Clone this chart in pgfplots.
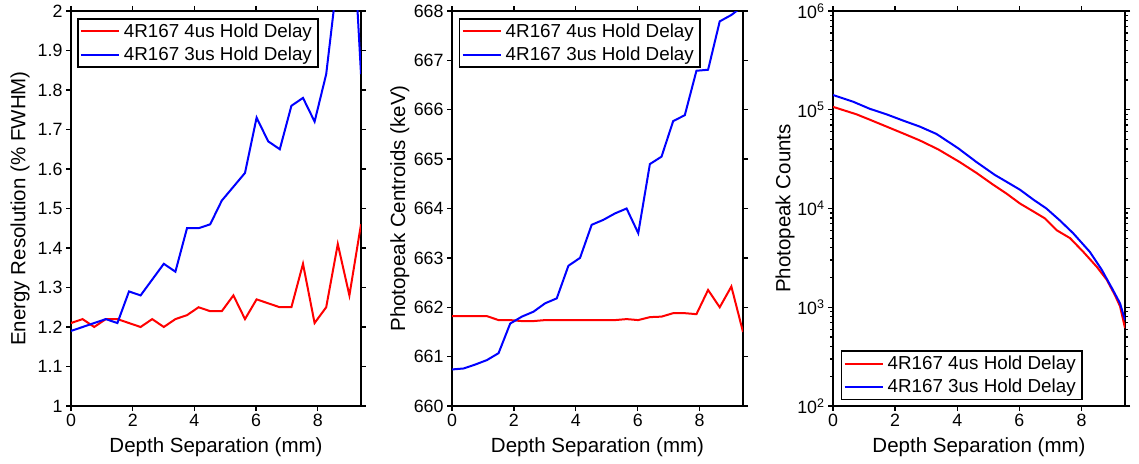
\documentclass[border=0pt]{standalone}
\usepackage{pgfplots}
\pgfplotsset{compat=1.18}
\usepackage{pgfplotstable}
\usepackage{fontspec}
\setmainfont{Liberation Sans}

\pgfplotstableread{
x      eA     eB     cA      cB
0      1.21   1.19   661.82  660.74
0.376  1.22   1.20   661.82  660.76
0.752  1.20   1.21   661.82  660.84
1.128  1.22   1.22   661.82  660.93
1.504  1.22   1.21   661.74  661.07
1.88   1.21   1.29   661.74  661.67
2.256  1.20   1.28   661.72  661.81
2.632  1.22   1.32   661.72  661.91
3.008  1.20   1.36   661.74  662.08
3.384  1.22   1.34   661.74  662.18
3.76   1.23   1.45   661.74  662.84
4.136  1.25   1.45   661.74  663.00
4.512  1.24   1.46   661.74  663.67
4.888  1.24   1.52   661.74  663.77
5.264  1.28   1.555  661.74  663.90
5.64   1.22   1.59   661.76  664.00
6.016  1.27   1.73   661.74  663.50
6.392  1.26   1.67   661.80  664.90
6.768  1.25   1.65   661.81  665.05
7.144  1.25   1.76   661.88  665.77
7.52   1.36   1.78   661.88  665.89
7.896  1.21   1.72   661.86  666.79
8.272  1.25   1.84   662.35  666.81
8.648  1.41   2.09   662.00  667.79
9.024  1.28   2.38   662.42  667.92
9.4    1.46   1.84   661.50  668.10
}\tabdata

\pgfplotstableread{
x     y
0     107000
0.752 90000
1.18  79430
1.72  67610
2.26  57544
2.79  48978
3.38  39811
4.08  29512
4.62  22909
5.16  17378
5.59  14125
6.02  11220
6.45  9333
6.82  7943
7.20  6026
7.63  5012
8.06  3631
8.49  2570
8.81  1905
9.08  1318
9.24  1023
9.40  617
}\countsA

\pgfplotstableread{
x     y
0     140930
0.645 120780
1.18  102330
1.72  89950
2.26  77625
2.79  67608
3.33  56885
4.03  40738
4.62  29512
5.21  21878
5.59  18621
6.02  15488
6.45  12303
6.87  10000
7.30  7586
7.73  5623
8.27  3631
8.65  2399
9.02  1479
9.24  1096
9.40  741
}\countsB

\pgfplotsset{
  mystyle/.style={
    height=395pt, scale only axis,
    xmin=0, xmax=9.4,
    xtick={0,2,4,6,8},
    tick align=outside,
    major tick length=5pt,
    minor tick length=3pt,
    axis line style={line width=1.5pt},
    every tick/.style={black, line width=1.3pt},
    tick label style={font=\fontsize{17.8}{20}\selectfont},
    label style={font=\fontsize{20.5}{24}\selectfont},
    /pgf/number format/assume math mode=true,
    xlabel={Depth Separation (mm)},
    xlabel style={at={(axis description cs:0.5,-0.104)}, anchor=center},
    legend cell align=left,
    legend style={font=\fontsize{18.8}{21}\selectfont, draw=black, line width=1.5pt,
      inner xsep=2pt, inner ysep=1pt, row sep=0pt,
      nodes={inner xsep=4pt, inner ysep=4pt}},
    legend image code/.code={\draw[#1] (7pt,0pt) -- (45pt,0pt);},
  },
}

\begin{document}
\begin{tikzpicture}
\path[use as bounding box] (0pt,0pt) rectangle (1139pt,463pt);

\begin{axis}[mystyle, width=290pt, at={(71pt,57pt)}, anchor=south west,
  ymin=1, ymax=2, ytick={1,1.1,1.2,1.3,1.4,1.5,1.6,1.7,1.8,1.9,2},
  ylabel={Energy Resolution (\% FWHM)},
  ylabel style={at={(axis description cs:-0.176,0.5)}, anchor=center},
  legend style={at={(axis description cs:0.021,0.982)}, anchor=north west}]
\addplot[red, line width=2pt] table[x=x, y=eA] {\tabdata};
\addplot[blue, line width=2pt] table[x=x, y=eB] {\tabdata};
\legend{4R167 4us Hold Delay, 4R167 3us Hold Delay}
\end{axis}

\begin{axis}[mystyle, width=291pt, at={(452pt,57pt)}, anchor=south west,
  ymin=660, ymax=668, ytick={660,661,662,663,664,665,666,667,668},
  ylabel={Photopeak Centroids (keV)},
  ylabel style={at={(axis description cs:-0.179,0.5)}, anchor=center},
  legend style={at={(axis description cs:0.024,0.982)}, anchor=north west}]
\addplot[red, line width=2pt] table[x=x, y=cA] {\tabdata};
\addplot[blue, line width=2pt] table[x=x, y=cB] {\tabdata};
\legend{4R167 4us Hold Delay, 4R167 3us Hold Delay}
\end{axis}

\begin{axis}[mystyle, width=292pt, at={(833pt,57pt)}, anchor=south west,
  ymode=log, ymin=100, ymax=1000000,
  ytick={100,1000,10000,100000,1000000},
  yticklabels={10\textsuperscript{2},10\textsuperscript{3},10\textsuperscript{4},10\textsuperscript{5},10\textsuperscript{6}},
  ylabel={Photopeak Counts},
  ylabel style={at={(axis description cs:-0.164,0.5)}, anchor=center},
  legend style={at={(axis description cs:0.027,0.015)}, anchor=south west}]
\addplot[red, line width=2pt] table[x=x, y=y] {\countsA};
\addplot[blue, line width=2pt] table[x=x, y=y] {\countsB};
\legend{4R167 4us Hold Delay, 4R167 3us Hold Delay}
\end{axis}
\end{tikzpicture}
\end{document}
